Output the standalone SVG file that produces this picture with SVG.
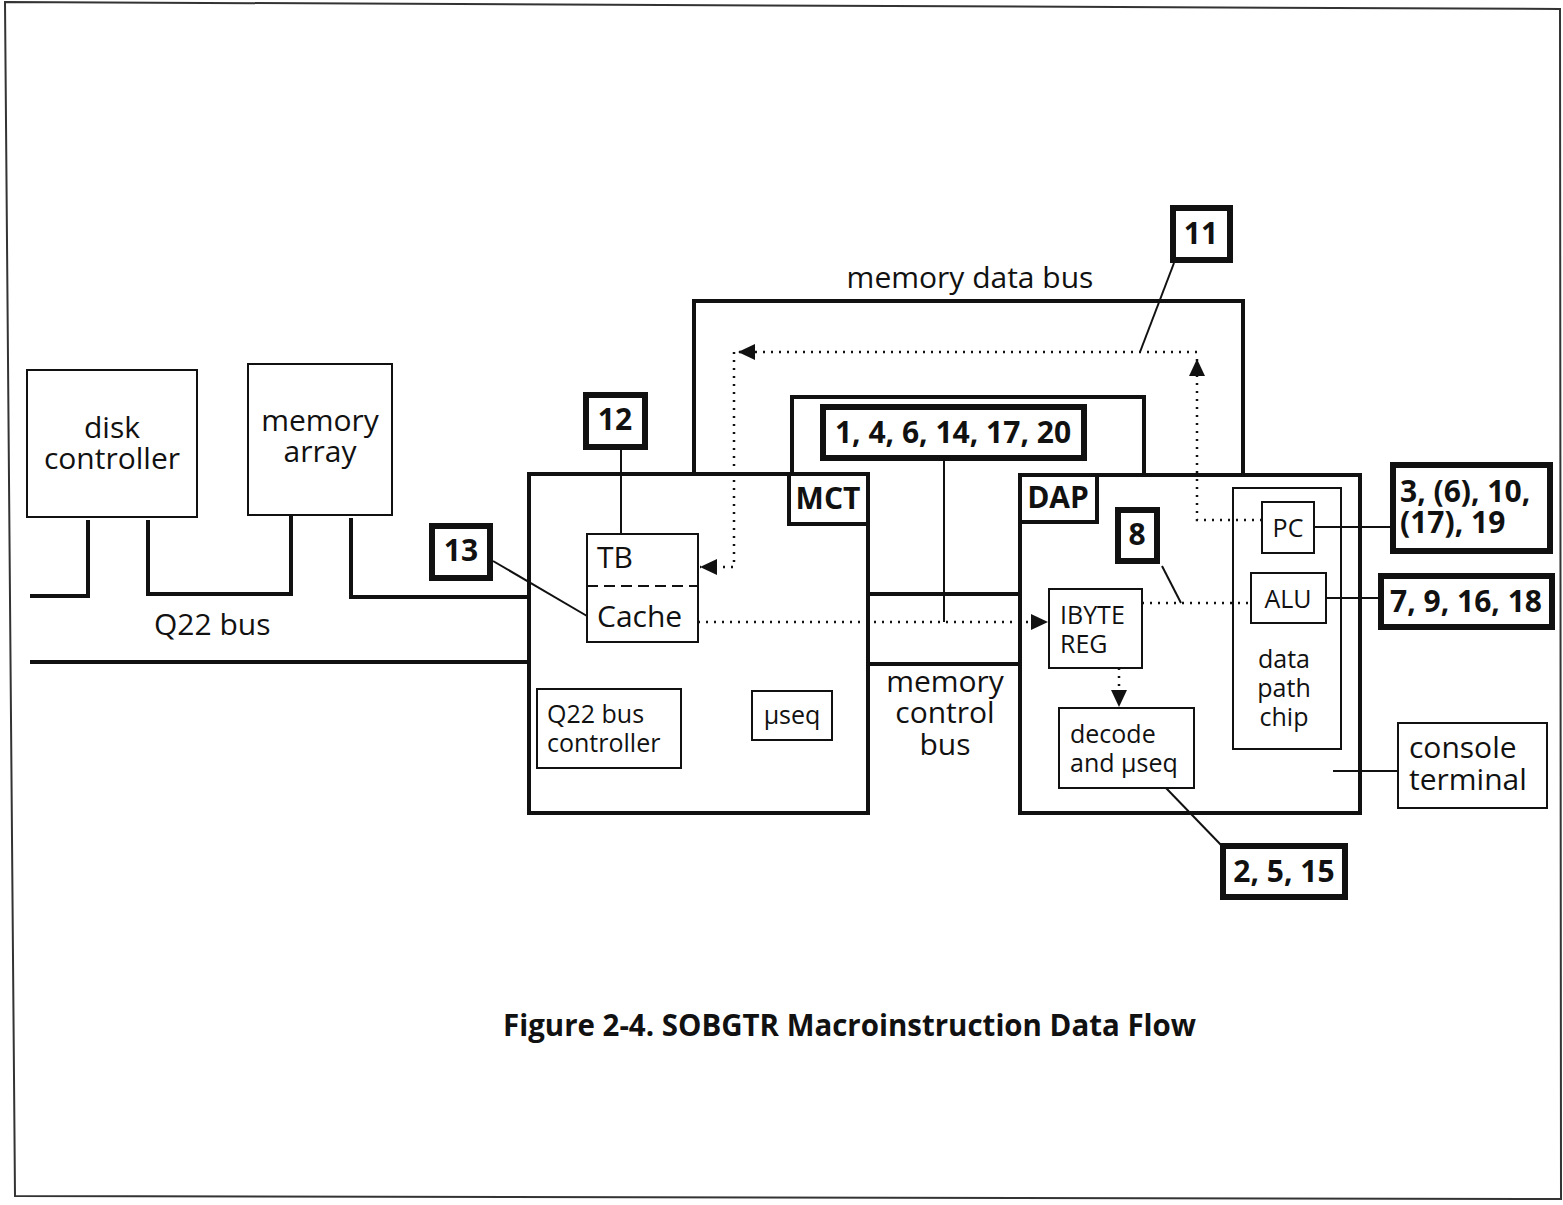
<svg xmlns="http://www.w3.org/2000/svg" width="1563" height="1205" viewBox="0 0 1563 1205">
<style>
.thin{fill:#fff;stroke:#111;stroke-width:2}
.thick{fill:#fff;stroke:#111;stroke-width:6}
.big{fill:none;stroke:#111;stroke-width:4}
.lbl{fill:#fff;stroke:#111;stroke-width:4}
.bus{fill:none;stroke:#111;stroke-width:4}
.ln{fill:none;stroke:#111;stroke-width:2}
.dot{fill:none;stroke:#111;stroke-width:2.5;stroke-dasharray:2 6}
.t{font-family:"Open Sans","Liberation Sans",sans-serif;font-size:30px;fill:#111}
.s{font-size:25px}
.b{font-weight:bold}
.m{text-anchor:middle}
</style>
<defs>
<marker id="ah" markerUnits="userSpaceOnUse" markerWidth="18" markerHeight="16" refX="17" refY="8" orient="auto">
<path d="M0,0 L17,8 L0,16 Z" fill="#111"/>
</marker>
</defs>
<rect width="1563" height="1205" fill="#fff"/>
<polygon id="frame" points="5,2 1560,9 1561,1199 15,1196" fill="none" stroke="#333" stroke-width="2"/>

<g id="disk-controller">
<rect class="thin" x="27" y="370" width="170" height="147"/>
<text class="t m" x="112" y="438">disk</text>
<text class="t m" x="112" y="469">controller</text>
</g>
<g id="memory-array">
<rect class="thin" x="248" y="364" width="144" height="151"/>
<text class="t m" x="320" y="431">memory</text>
<text class="t m" x="320" y="462">array</text>
</g>
<text id="q22-bus-label" class="t" x="154" y="635">Q22 bus</text>

<g id="mct">
<rect class="big" x="529" y="474" width="339" height="339"/>
<rect class="lbl" x="789" y="474" width="79" height="50"/>
<text class="t b m" x="828" y="509" font-size="24">MCT</text>
</g>
<g id="tb-cache">
<rect class="thin" x="587" y="534" width="111" height="108"/>
<path d="M587,586 H698" stroke="#111" stroke-width="2" stroke-dasharray="11 6"/>
<text class="t" x="597" y="568">TB</text>
<text class="t" x="597" y="627">Cache</text>
</g>
<g id="q22-bus-controller">
<rect class="thin" x="537" y="689" width="144" height="79"/>
<text class="t s" x="547" y="723">Q22 bus</text>
<text class="t s" x="547" y="752">controller</text>
</g>
<g id="mct-useq">
<rect class="thin" x="752" y="691" width="80" height="49"/>
<text class="t s m" x="792" y="724">µseq</text>
</g>

<g id="memory-data-bus-label"><text class="t m" x="970" y="288">memory data bus</text></g>
<g id="memory-control-bus-label">
<text class="t m" x="945" y="692">memory</text>
<text class="t m" x="945" y="723">control</text>
<text class="t m" x="945" y="755">bus</text>
</g>

<g id="dap">
<rect class="big" x="1020" y="475" width="340" height="338"/>
<rect class="lbl" x="1020" y="475" width="77" height="47"/>
<text class="t b m" x="1058" y="508" font-size="24">DAP</text>
</g>
<g id="ibyte-reg">
<rect class="thin" x="1049" y="589" width="93" height="79"/>
<text class="t s" x="1060" y="624">IBYTE</text>
<text class="t s" x="1060" y="653">REG</text>
</g>
<g id="decode-useq">
<rect class="thin" x="1059" y="708" width="135" height="80"/>
<text class="t s" x="1070" y="743">decode</text>
<text class="t s" x="1070" y="772">and µseq</text>
</g>
<g id="data-path-chip">
<rect class="thin" x="1233" y="488" width="108" height="261"/>
<text class="t s m" x="1284" y="668">data</text>
<text class="t s m" x="1284" y="697">path</text>
<text class="t s m" x="1284" y="726">chip</text>
</g>
<g id="pc">
<rect class="thin" x="1262" y="502" width="52" height="51"/>
<text class="t s m" x="1288" y="537">PC</text>
</g>
<g id="alu">
<rect class="thin" x="1251" y="573" width="75" height="50"/>
<text class="t s m" x="1288" y="608">ALU</text>
</g>
<g id="console-terminal">
<rect class="thin" x="1398" y="723" width="149" height="85"/>
<text class="t" x="1409" y="758">console</text>
<text class="t" x="1409" y="790">terminal</text>
</g>

<g id="ref-11"><rect class="thick" x="1173" y="208" width="57" height="52"/><text class="t b m" x="1201" y="244">11</text></g>
<g id="ref-12"><rect class="thick" x="586" y="395" width="59" height="52"/><text class="t b m" x="615" y="430">12</text></g>
<g id="ref-13"><rect class="thick" x="432" y="526" width="58" height="52"/><text class="t b m" x="461" y="561">13</text></g>
<g id="ref-8"><rect class="thick" x="1118" y="510" width="39" height="51"/><text class="t b m" x="1137" y="545">8</text></g>
<g id="ref-1-4-6"><rect class="thick" x="823" y="407" width="261" height="51"/><text class="t b m" x="953" y="443">1, 4, 6, 14, 17, 20</text></g>
<g id="ref-3-6-10"><rect class="thick" x="1393" y="465" width="157" height="86"/><text class="t b" x="1400" y="502">3, (6), 10,</text><text class="t b" x="1400" y="533">(17), 19</text></g>
<g id="ref-7-9"><rect class="thick" x="1381" y="576" width="171" height="51"/><text class="t b m" x="1466" y="612">7, 9, 16, 18</text></g>
<g id="ref-2-5-15"><rect class="thick" x="1223" y="846" width="122" height="51"/><text class="t b m" x="1284" y="882">2, 5, 15</text></g>

<g id="connectors">
<path class="bus" d="M30,596 H88 V520"/>
<path class="bus" d="M148,520 V594 H291 V515"/>
<path class="bus" d="M351,518 V597 H529"/>
<path class="bus" d="M30,662 H529"/>
<path class="bus" d="M694,474 V301 H1243 V475"/>
<path class="bus" d="M792,474 V397 H1144 V475"/>
<path class="bus" d="M868,594 H1020"/>
<path class="bus" d="M868,664 H1020"/>
<path class="ln" d="M493,561 L587,616"/>
<path class="ln" d="M621,450 V534"/>
<path class="ln" d="M944,461 V622" stroke-width="2.5"/>
<path class="ln" d="M1174,263 L1140,352"/>
<path class="ln" d="M1162,566 L1181,603"/>
<path class="ln" d="M1314,527 H1391"/>
<path class="ln" d="M1326,598 H1379"/>
<path class="ln" d="M1333,771 H1398"/>
<path class="ln" d="M1166,788 L1222,846"/>
<path class="dot" d="M1262,520 H1197 V359" marker-end="url(#ah)"/>
<path class="dot" d="M1197,352 H738" marker-end="url(#ah)"/>
<path class="dot" d="M734,352 V567 H700" marker-end="url(#ah)"/>
<path class="dot" d="M698,622 H1048" marker-end="url(#ah)"/>
<path class="dot" d="M1119,668 V707" marker-end="url(#ah)"/>
<path class="dot" d="M1142,603 H1251"/>
</g>

<text id="caption" class="t b" x="503" y="1036" textLength="693" lengthAdjust="spacingAndGlyphs">Figure 2-4. SOBGTR Macroinstruction Data Flow</text>
</svg>
